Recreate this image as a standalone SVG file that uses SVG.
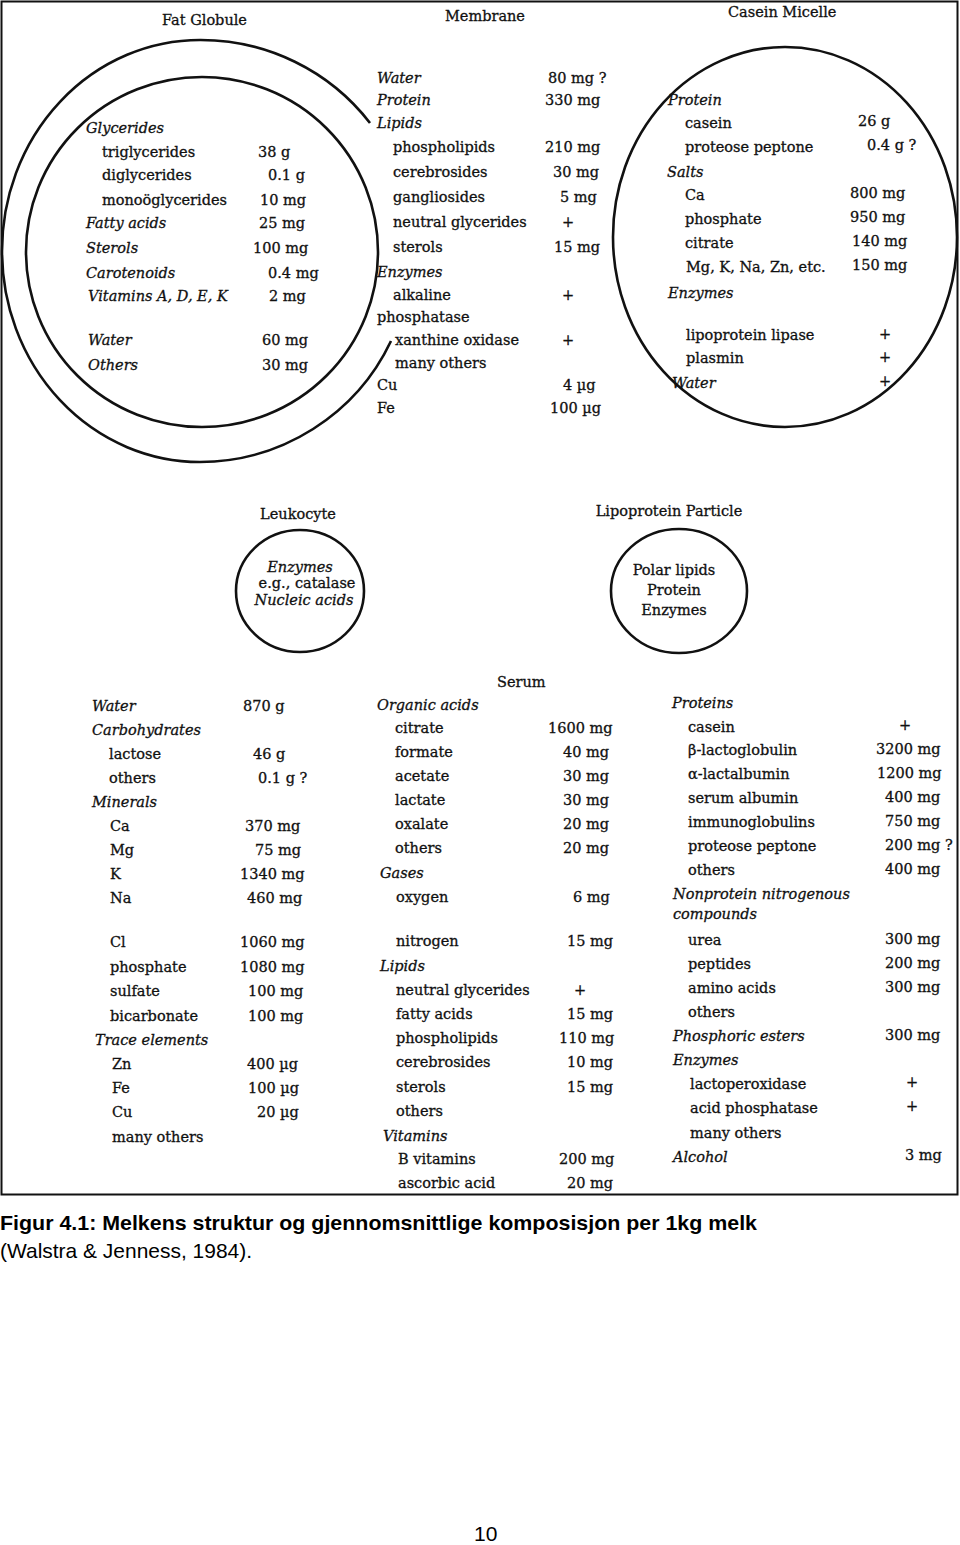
<svg xmlns="http://www.w3.org/2000/svg" width="960" height="1545" viewBox="0 0 960 1545">
<style>
text{font-family:"DejaVu Serif","Liberation Serif",serif;font-size:14.5px;fill:#111;stroke:#111;stroke-width:0.3}
.i{font-style:italic}
.m{text-anchor:middle}
.ln{fill:none;stroke:#111;stroke-width:2.6}
.cap{font-family:"Liberation Sans",Arial,sans-serif;font-size:21px;fill:#000;stroke:none}
.b{font-weight:bold}
</style>
<rect x="0" y="0" width="960" height="1545" fill="#fff"/>
<rect id="frame" x="1.5" y="1.5" width="956" height="1193" fill="none" stroke="#111" stroke-width="2"/>

<g id="connectors"></g>

<g id="fat-globule">
<path class="ln" d="M 370 123 A 213 211 0 0 0 200 40 A 198 211 0 0 0 200 462 A 212 211 0 0 0 391 341"/>
<ellipse class="ln" cx="202" cy="252" rx="176" ry="175"/>
<text x="162" y="25">Fat Globule</text>
<text class="i" x="86" y="133">Glycerides</text>
<text x="102" y="157">triglycerides</text><text x="258" y="157">38 g</text>
<text x="102" y="180">diglycerides</text><text x="268" y="180">0.1 g</text>
<text x="102" y="205">monoöglycerides</text><text x="260" y="205">10 mg</text>
<text class="i" x="86" y="228">Fatty acids</text><text x="259" y="228">25 mg</text>
<text class="i" x="86" y="253">Sterols</text><text x="253" y="253">100 mg</text>
<text class="i" x="86" y="278">Carotenoids</text><text x="268" y="278">0.4 mg</text>
<text class="i" x="88" y="301">Vitamins A, D, E, K</text><text x="269" y="301">2 mg</text>
<text class="i" x="88" y="345">Water</text><text x="262" y="345">60 mg</text>
<text class="i" x="88" y="370">Others</text><text x="262" y="370">30 mg</text>
</g>

<g id="membrane">
<text x="445" y="21">Membrane</text>
<text class="i" x="377" y="83">Water</text><text x="548" y="83">80 mg ?</text>
<text class="i" x="377" y="105">Protein</text><text x="545" y="105">330 mg</text>
<text class="i" x="377" y="128">Lipids</text>
<text x="393" y="152">phospholipids</text><text x="545" y="152">210 mg</text>
<text x="393" y="177">cerebrosides</text><text x="553" y="177">30 mg</text>
<text x="393" y="202">gangliosides</text><text x="560" y="202">5 mg</text>
<text x="393" y="227">neutral glycerides</text><text x="562" y="227">+</text>
<text x="393" y="252">sterols</text><text x="554" y="252">15 mg</text>
<text class="i" x="377" y="277">Enzymes</text>
<text x="393" y="300">alkaline</text><text x="562" y="300">+</text>
<text x="377" y="322">phosphatase</text>
<text x="395" y="345">xanthine oxidase</text><text x="562" y="345">+</text>
<text x="395" y="368">many others</text>
<text x="377" y="390">Cu</text><text x="563" y="390">4 µg</text>
<text x="377" y="413">Fe</text><text x="550" y="413">100 µg</text>
</g>

<g id="casein-micelle">
<ellipse class="ln" cx="785" cy="237" rx="172" ry="190"/>
<text x="728" y="17">Casein Micelle</text>
<text class="i" x="668" y="105">Protein</text>
<text x="685" y="128">casein</text><text x="858" y="126">26 g</text>
<text x="685" y="152">proteose peptone</text><text x="867" y="150">0.4 g ?</text>
<text class="i" x="667" y="177">Salts</text>
<text x="685" y="200">Ca</text><text x="850" y="198">800 mg</text>
<text x="685" y="224">phosphate</text><text x="850" y="222">950 mg</text>
<text x="685" y="248">citrate</text><text x="852" y="246">140 mg</text>
<text x="686" y="272">Mg, K, Na, Zn, etc.</text><text x="852" y="270">150 mg</text>
<text class="i" x="668" y="298">Enzymes</text>
<text x="686" y="340">lipoprotein lipase</text><text x="879" y="339">+</text>
<text x="686" y="363">plasmin</text><text x="879" y="362">+</text>
<text class="i" x="672" y="388">Water</text><text x="879" y="386">+</text>
</g>

<g id="leukocyte">
<text class="m" x="298" y="519">Leukocyte</text>
<ellipse class="ln" cx="300" cy="591" rx="64" ry="61"/>
<text class="i m" x="300" y="572">Enzymes</text>
<text class="m" x="307" y="588">e.g., catalase</text>
<text class="i m" x="304" y="605">Nucleic acids</text>
</g>

<g id="lipoprotein-particle">
<text class="m" x="669" y="516">Lipoprotein Particle</text>
<ellipse class="ln" cx="679" cy="591" rx="68" ry="62"/>
<text class="m" x="674" y="575">Polar lipids</text>
<text class="m" x="674" y="595">Protein</text>
<text class="m" x="674" y="615">Enzymes</text>
</g>

<g id="serum">
<text x="497" y="687">Serum</text>
<text class="i" x="92" y="711">Water</text><text x="243" y="711">870 g</text>
<text class="i" x="92" y="735">Carbohydrates</text>
<text x="109" y="759">lactose</text><text x="253" y="759">46 g</text>
<text x="109" y="783">others</text><text x="258" y="783">0.1 g ?</text>
<text class="i" x="92" y="807">Minerals</text>
<text x="110" y="831">Ca</text><text x="245" y="831">370 mg</text>
<text x="110" y="855">Mg</text><text x="255" y="855">75 mg</text>
<text x="110" y="879">K</text><text x="240" y="879">1340 mg</text>
<text x="110" y="903">Na</text><text x="247" y="903">460 mg</text>
<text x="110" y="947">Cl</text><text x="240" y="947">1060 mg</text>
<text x="110" y="972">phosphate</text><text x="240" y="972">1080 mg</text>
<text x="110" y="996">sulfate</text><text x="248" y="996">100 mg</text>
<text x="110" y="1021">bicarbonate</text><text x="248" y="1021">100 mg</text>
<text class="i" x="95" y="1045">Trace elements</text>
<text x="112" y="1069">Zn</text><text x="247" y="1069">400 µg</text>
<text x="112" y="1093">Fe</text><text x="248" y="1093">100 µg</text>
<text x="112" y="1117">Cu</text><text x="257" y="1117">20 µg</text>
<text x="112" y="1142">many others</text>

<text class="i" x="377" y="710">Organic acids</text>
<text x="395" y="733">citrate</text><text x="548" y="733">1600 mg</text>
<text x="395" y="757">formate</text><text x="563" y="757">40 mg</text>
<text x="395" y="781">acetate</text><text x="563" y="781">30 mg</text>
<text x="395" y="805">lactate</text><text x="563" y="805">30 mg</text>
<text x="395" y="829">oxalate</text><text x="563" y="829">20 mg</text>
<text x="395" y="853">others</text><text x="563" y="853">20 mg</text>
<text class="i" x="380" y="878">Gases</text>
<text x="396" y="902">oxygen</text><text x="573" y="902">6 mg</text>
<text x="396" y="946">nitrogen</text><text x="567" y="946">15 mg</text>
<text class="i" x="380" y="971">Lipids</text>
<text x="396" y="995">neutral glycerides</text><text x="574" y="995">+</text>
<text x="396" y="1019">fatty acids</text><text x="567" y="1019">15 mg</text>
<text x="396" y="1043">phospholipids</text><text x="559" y="1043">110 mg</text>
<text x="396" y="1067">cerebrosides</text><text x="567" y="1067">10 mg</text>
<text x="396" y="1092">sterols</text><text x="567" y="1092">15 mg</text>
<text x="396" y="1116">others</text>
<text class="i" x="383" y="1141">Vitamins</text>
<text x="398" y="1164">B vitamins</text><text x="559" y="1164">200 mg</text>
<text x="398" y="1188">ascorbic acid</text><text x="567" y="1188">20 mg</text>

<text class="i" x="672" y="708">Proteins</text>
<text x="688" y="732">casein</text><text x="899" y="730">+</text>
<text x="688" y="755">β-lactoglobulin</text><text x="876" y="754">3200 mg</text>
<text x="688" y="779">α-lactalbumin</text><text x="877" y="778">1200 mg</text>
<text x="688" y="803">serum albumin</text><text x="885" y="802">400 mg</text>
<text x="688" y="827">immunoglobulins</text><text x="885" y="826">750 mg</text>
<text x="688" y="851">proteose peptone</text><text x="885" y="850">200 mg ?</text>
<text x="688" y="875">others</text><text x="885" y="874">400 mg</text>
<text class="i" x="673" y="899">Nonprotein nitrogenous</text>
<text class="i" x="673" y="919">compounds</text>
<text x="688" y="945">urea</text><text x="885" y="944">300 mg</text>
<text x="688" y="969">peptides</text><text x="885" y="968">200 mg</text>
<text x="688" y="993">amino acids</text><text x="885" y="992">300 mg</text>
<text x="688" y="1017">others</text>
<text class="i" x="673" y="1041">Phosphoric esters</text><text x="885" y="1040">300 mg</text>
<text class="i" x="673" y="1065">Enzymes</text>
<text x="690" y="1089">lactoperoxidase</text><text x="906" y="1087">+</text>
<text x="690" y="1113">acid phosphatase</text><text x="906" y="1111">+</text>
<text x="690" y="1138">many others</text>
<text class="i" x="673" y="1162">Alcohol</text><text x="905" y="1160">3 mg</text>
</g>

<g id="caption">
<text class="cap b" x="0" y="1230" textLength="757" lengthAdjust="spacingAndGlyphs">Figur 4.1: Melkens struktur og gjennomsnittlige komposisjon per 1kg melk</text>
<text class="cap" x="0" y="1258" textLength="252" lengthAdjust="spacingAndGlyphs">(Walstra &amp; Jenness, 1984).</text>
<text class="cap" x="474" y="1541" style="font-size:21px">10</text>
</g>
</svg>
